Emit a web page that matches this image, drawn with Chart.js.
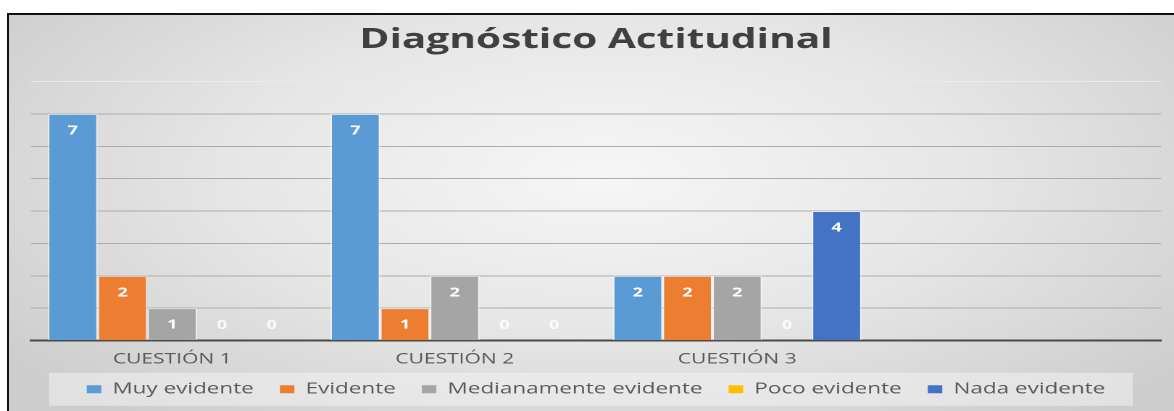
<!DOCTYPE html>
<html>
<head>
<meta charset="utf-8">
<script src="https://cdn.jsdelivr.net/npm/chart.js@4.4.1/dist/chart.umd.min.js"></script>
<style>
  html, body { margin: 0; padding: 0; background: #fff; overflow: hidden; }
  body { width: 1174px; height: 411px; position: relative; }
  #frame {
    position: absolute; left: 7px; top: 13px; width: 1190px; height: 420px;
    border-top: 2px solid #111; border-left: 2px solid #111;
    background: radial-gradient(ellipse 62% 75% at 50% 38%, #f6f6f6 0%, #e6e6e6 50%, #cdcdcd 100%);
  }
  /* the reference picture is stretched sideways, so the chart is too */
  #wrap {
    position: absolute; left: 0; top: 0; width: 810px; height: 411px;
    transform: scaleX(1.4494); transform-origin: 0 0;
  }
</style>
</head>
<body>
<div id="frame"></div>
<div id="wrap"><canvas id="chart"></canvas></div>
<script>
const categories = ['CUESTIÓN 1', 'CUESTIÓN 2', 'CUESTIÓN 3', ''];
const muyEvidente = [7, 7, 2, null];
const evidente = [2, 1, 2, null];
const medianamente = [1, 2, 2, null];
const pocoEvidente = [0, 0, 0, null];
const nadaEvidente = [0, 0, 4, null];
const yMax = 8;

const colors = {
    muy: '#5B9BD5',
    evidente: '#ED7D31',
    mediana: '#A5A5A5',
    poco: '#FFC000',
    nada: '#4472C4',
    text: '#595959',
};

Chart.defaults.font.family = "'Open Sans', sans-serif";

// lighter band behind the legend, as in the Excel picture
const legendBand = {
    id: 'legendBand',
    beforeDraw(chart) {
        const boxes = chart.legend && chart.legend.legendHitBoxes;
        if (!boxes || !boxes.length) return;
        const left = Math.min(...boxes.map(b => b.left)) - 26;
        const right = Math.max(...boxes.map(b => b.left + b.width)) + 19;
        const mid = boxes[0].top + boxes[0].height / 2;
        const ctx = chart.ctx;
        ctx.save();
        ctx.fillStyle = 'rgba(242, 242, 242, 0.55)';
        ctx.fillRect(left, mid - 16.5, right - left, 33);
        ctx.restore();
    }
};

// value labels inside the bar ends
const barValues = {
    id: 'barValues',
    afterDatasetsDraw(chart) {
        const ctx = chart.ctx;
        ctx.save();
        ctx.font = "bold 12.5px 'Open Sans', sans-serif";
        ctx.textAlign = 'center';
        ctx.textBaseline = 'middle';
        chart.data.datasets.forEach((ds, i) => {
            chart.getDatasetMeta(i).data.forEach((bar, j) => {
                const v = ds.data[j];
                if (v === null || v === undefined) return;
                ctx.fillStyle = v === 0 ? 'rgba(255,255,255,0.85)' : '#ffffff';
                const y = Math.min(bar.y + 17, bar.base - 15);
                ctx.fillText(String(v), bar.x, y);
            });
        });
        ctx.restore();
    }
};

const makeSet = (label, data, color) => ({
    label: label,
    data: data,
    backgroundColor: color,
    borderColor: 'rgba(255, 255, 255, 0.5)',
    borderWidth: c => (c.raw ? 1 : 0),
    borderSkipped: 'start'
});

new Chart(document.getElementById('chart'), {
    type: 'bar',
    data: {
        labels: categories,
        datasets: [
            makeSet('Muy evidente', muyEvidente, colors.muy),
            makeSet('Evidente', evidente, colors.evidente),
            makeSet('Medianamente evidente', medianamente, colors.mediana),
            makeSet('Poco evidente', pocoEvidente, colors.poco),
            makeSet('Nada evidente', nadaEvidente, colors.nada)
        ]
    },
    options: {
        responsive: true,
        maintainAspectRatio: false,
        devicePixelRatio: 2,
        animation: false,
        layout: { padding: { left: 21.4, right: 9, top: 0, bottom: 4 } },
        datasets: { bar: { categoryPercentage: 0.88, barPercentage: 1 } },
        plugins: {
            title: {
                display: true,
                text: 'Diagnóstico Actitudinal',
                color: '#404040',
                font: { size: 28, weight: 'bold' },
                padding: { top: 23, bottom: 24.9 }
            },
            legend: {
                position: 'bottom',
                labels: {
                    boxWidth: 10,
                    boxHeight: 8,
                    padding: 18,
                    color: colors.text,
                    font: { size: 15.5 },
                    generateLabels: chart => Chart.defaults.plugins.legend.labels
                        .generateLabels(chart).map(l => ({ ...l, lineWidth: 0 }))
                }
            },
            tooltip: { enabled: false }
        },
        scales: {
            x: {
                grid: { display: false, drawTicks: false },
                border: { display: true, color: '#4a4a4a', width: 2 },
                ticks: { color: colors.text, font: { size: 14.5 }, padding: 10 },
                afterFit: axis => { axis.height = 23; }
            },
            y: {
                min: 0,
                max: yMax,
                ticks: { display: false, stepSize: 1 },
                border: { display: false },
                grid: {
                    drawTicks: false,
                    color: c => {
                        if (c.tick.value === 0) return 'rgba(0,0,0,0)';
                        if (c.tick.value === yMax) return '#ebebeb';
                        return '#acacac';
                    }
                }
            }
        }
    },
    plugins: [legendBand, barValues]
});
</script>
</body>
</html>
